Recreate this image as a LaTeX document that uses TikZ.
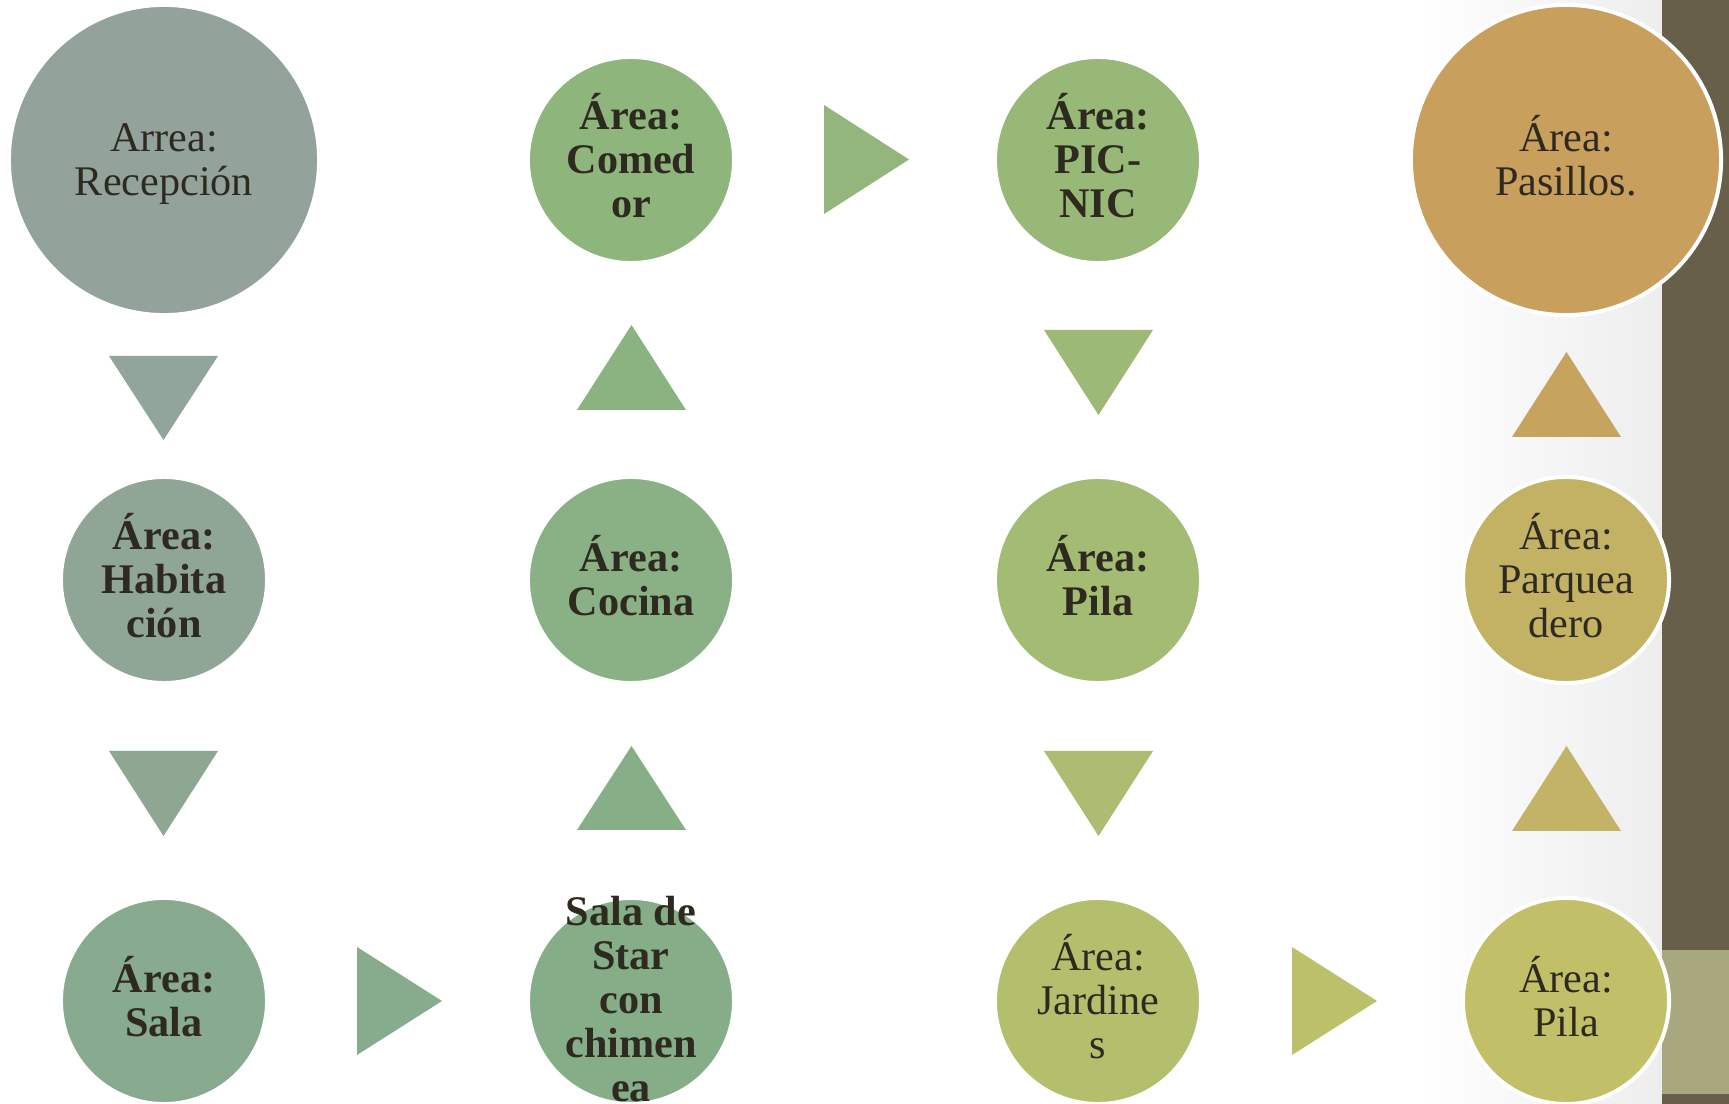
\documentclass[tikz,border=0pt]{standalone}
\usepackage{fontspec}
\setmainfont{Liberation Serif}
\definecolor{txtc}{HTML}{2E2A20}
\definecolor{bardark}{HTML}{675F4A}
\definecolor{barlight}{HTML}{A9A77D}
\definecolor{cRec}{HTML}{93A39B}
\definecolor{cHab}{HTML}{8FA596}
\definecolor{cSala}{HTML}{88AA8E}
\definecolor{cStar}{HTML}{85AD88}
\definecolor{cCoc}{HTML}{89B185}
\definecolor{cCom}{HTML}{8EB57C}
\definecolor{cPic}{HTML}{97B877}
\definecolor{cPila}{HTML}{A4BB74}
\definecolor{cJar}{HTML}{B4BF6D}
\definecolor{cPilb}{HTML}{C1C068}
\definecolor{cPar}{HTML}{C4B264}
\definecolor{cPas}{HTML}{C89F5D}
\definecolor{tA}{HTML}{91A59A}
\definecolor{tB}{HTML}{8DA793}
\definecolor{tC}{HTML}{87AB8D}
\definecolor{tD}{HTML}{86AF87}
\definecolor{tE}{HTML}{8AB381}
\definecolor{tF}{HTML}{92B67B}
\definecolor{tG}{HTML}{9CB975}
\definecolor{tH}{HTML}{ACBC70}
\definecolor{tI}{HTML}{BDC06B}
\definecolor{tJ}{HTML}{C3B366}
\definecolor{tK}{HTML}{C7A45E}
\tikzset{
  bigcirc/.style={circle, minimum size=3.1cm, inner sep=0pt, outer sep=0pt, draw=white, line width=0.04cm},
  smallcirc/.style={circle, minimum size=2.06cm, inner sep=0pt, outer sep=0pt, draw=white, line width=0.04cm},
  lbl/.style={align=center, text=txtc, inner sep=0pt, font=\fontsize{12}{12.5}\selectfont},
  lblb/.style={lbl, font=\fontsize{12}{12.5}\selectfont\bfseries},
}
\begin{document}
\begin{tikzpicture}[x=0.01cm, y=-0.01cm]
\useasboundingbox (0,0) rectangle (1729,1104);
% background
\fill[white] (0,0) rectangle (1729,1104);
\shade[left color=white, right color=black!7] (1420,0) rectangle (1662,1104);
% side bar
\fill[bardark] (1662,0) rectangle (1729,1104);
\fill[barlight] (1662,950) rectangle (1729,1094);

% triangles (vertical)
\fill[tA] (109,356) -- (218,356) -- (163.5,440) -- cycle;
\fill[tE] (577,410) -- (686,410) -- (631.5,325) -- cycle;
\fill[tG] (1044,330) -- (1153,330) -- (1098.5,415) -- cycle;
\fill[tK] (1512,437) -- (1621,437) -- (1566.5,352) -- cycle;
\fill[tB] (109,751) -- (218,751) -- (163.5,836) -- cycle;
\fill[tD] (577,830) -- (686,830) -- (631.5,746) -- cycle;
\fill[tH] (1044,751) -- (1153,751) -- (1098.5,836) -- cycle;
\fill[tJ] (1512,831) -- (1621,831) -- (1566.5,746) -- cycle;
% triangles (horizontal)
\fill[tF] (824,105) -- (824,214) -- (909,159.5) -- cycle;
\fill[tC] (357,947) -- (357,1055) -- (442,1001) -- cycle;
\fill[tI] (1292,947) -- (1292,1055) -- (1377,1001) -- cycle;

% circles
\node[bigcirc, fill=cRec] (rec) at (164,160) {};
\node[smallcirc, fill=cCom] (com) at (631,160) {};
\node[smallcirc, fill=cPic] (pic) at (1098,160) {};
\node[bigcirc, fill=cPas] (pas) at (1566,160) {};
\node[smallcirc, fill=cHab] (hab) at (164,580) {};
\node[smallcirc, fill=cCoc] (coc) at (631,580) {};
\node[smallcirc, fill=cPila] (pila) at (1098,580) {};
\node[smallcirc, fill=cPar] (par) at (1566,580) {};
\node[smallcirc, fill=cSala] (sala) at (164,1001) {};
\node[smallcirc, fill=cStar] (star) at (631,1001) {};
\node[smallcirc, fill=cJar] (jar) at (1098,1001) {};
\node[smallcirc, fill=cPilb] (pilb) at (1566,1001) {};

% labels
\node[lbl] (rec-t) at (164,164) {Arrea:\\Recepción};
\node[lblb] (com-t) at (631,156) {Área:\\Comed\\or};
\node[lblb] (pic-t) at (1098,156) {Área:\\PIC-\\NIC};
\node[lbl] (pas-t) at (1566,156) {Área:\\Pasillos.};
\node[lblb] (hab-t) at (164,576) {Área:\\Habita\\ción};
\node[lblb] (coc-t) at (631,576) {Área:\\Cocina};
\node[lblb] (pila-t) at (1098,576) {Área:\\Pila};
\node[lbl] (par-t) at (1566,576) {Área:\\Parquea\\dero};
\node[lblb] (sala-t) at (164,997) {Área:\\Sala};
\node[lblb] (star-t) at (631,999) {Sala de\\Star\\con\\chimen\\ea};
\node[lbl] (jar-t) at (1098,997) {Área:\\Jardine\\s};
\node[lbl] (pilb-t) at (1566,997) {Área:\\Pila};
\end{tikzpicture}
\end{document}
